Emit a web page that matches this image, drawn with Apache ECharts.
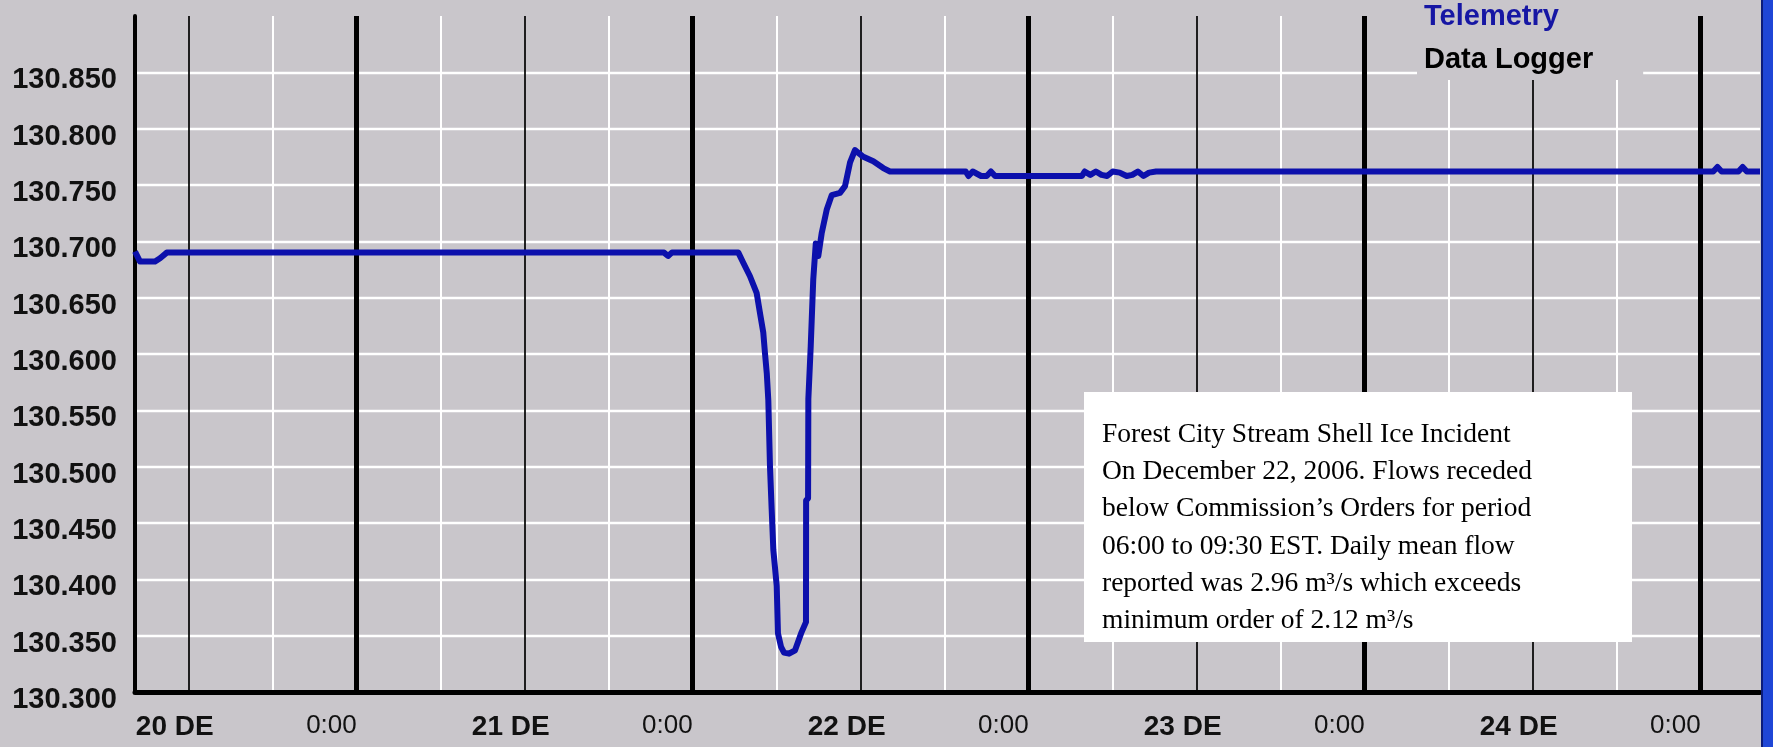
<!DOCTYPE html>
<html>
<head>
<meta charset="utf-8">
<script src="https://cdn.jsdelivr.net/npm/echarts@6/dist/echarts.min.js"></script>
<style>
  html, body { margin: 0; padding: 0; background: #c9c6cb; }
  #chart { width: 1773px; height: 747px; }
</style>
</head>
<body>
<div id="chart"></div>
<script>
// ---- data (x = hours since 20 Dec 00:00) ----
const xMin = 8.16;
const xMax = 124.24;
const midnightTicks = [24, 48, 72, 96, 120];
const noonTicks = [12, 36, 60, 84, 108];
const sixHourTicks = [18, 30, 42, 54, 66, 78, 90, 102, 114];
const dayLabels = ['20 DE', '21 DE', '22 DE', '23 DE', '24 DE'];
const midnightLabel = '0:00';
const yMin = 130.3;
const yMax = 130.9;
const yStep = 0.05;

const telemetryHours = [
  8.16, 8.52, 9.59, 9.95, 10.43, 45.95, 46.24, 46.52, 51.26, 51.61,
  52.09, 52.57, 52.81, 53.04, 53.16, 53.29, 53.40, 53.52, 53.64, 53.76,
  54.00, 54.09, 54.31, 54.52, 54.88, 55.31, 55.74, 56.09, 56.10, 56.24,
  56.26, 56.43, 56.61, 56.79, 56.97, 57.21, 57.57, 57.93, 58.52, 58.88,
  59.24, 59.59, 60.19, 60.90, 61.61, 62.09, 67.50, 67.70, 68.00, 68.30,
  68.60, 69.00, 69.30, 69.60, 70.20, 75.80, 76.00, 76.40, 76.80, 77.20,
  77.60, 78.00, 78.50, 79.00, 79.40, 79.80, 80.20, 80.60, 81.10, 120.90,
  121.20, 121.50, 122.70, 123.00, 123.30, 124.24
];
const telemetryLevels = [
  130.691, 130.682, 130.682, 130.685, 130.690, 130.690, 130.687, 130.690, 130.690, 130.681,
  130.669, 130.654, 130.636, 130.619, 130.601, 130.583, 130.559, 130.500, 130.462, 130.426,
  130.394, 130.352, 130.340, 130.335, 130.334, 130.337, 130.352, 130.362, 130.470, 130.472,
  130.560, 130.607, 130.666, 130.698, 130.687, 130.707, 130.728, 130.741, 130.743, 130.749,
  130.770, 130.781, 130.775, 130.771, 130.765, 130.762, 130.762, 130.758, 130.762, 130.760,
  130.758, 130.758, 130.762, 130.758, 130.758, 130.758, 130.762, 130.759, 130.762, 130.759,
  130.758, 130.762, 130.761, 130.758, 130.759, 130.762, 130.758, 130.761, 130.762, 130.762,
  130.766, 130.762, 130.762, 130.766, 130.762, 130.762
];
const dataLoggerLevels = [];

const noteLines = [
  'Forest City Stream Shell Ice Incident',
  'On December 22, 2006. Flows receded',
  'below Commission\u2019s Orders for period',
  '06:00 to 09:30 EST. Daily mean flow',
  'reported was 2.96 m\u00b3/s which exceeds',
  'minimum order of 2.12 m\u00b3/s'
];

// ---- chart ----
const BG = '#c9c6cb';
const chart = echarts.init(document.getElementById('chart'), null, { renderer: 'canvas' });
const telemetryData = telemetryHours.map((h, i) => [h, telemetryLevels[i]]);

const baseX = {
  type: 'value', min: xMin, max: xMax, position: 'bottom', offset: 0,
  axisLine: { show: false, onZero: false },
  axisTick: { show: false },
  axisLabel: { show: false },
  splitLine: { show: false }
};

const option = {
  backgroundColor: BG,
  animation: false,
  grid: { left: 135, right: 13, top: 16, bottom: 55 },
  legend: {
    orient: 'vertical', left: 1417, top: 0,
    backgroundColor: BG,
    padding: [2, 50, 5, 1],
    itemWidth: 0, itemHeight: 0, itemGap: 13,
    selectedMode: false, z: 20,
    textStyle: { fontFamily: '"Liberation Sans", Arial, sans-serif', fontSize: 29, fontWeight: 'bold', lineHeight: 30 },
    data: [
      { name: 'Telemetry', textStyle: { color: '#1616a4' } },
      { name: 'Data Logger', textStyle: { color: '#000000' } }
    ]
  },
  xAxis: [
    Object.assign({}, baseX, {
      z: 3,
      axisLine: { show: true, onZero: false, lineStyle: { color: '#000', width: 5 } },
      axisTick: { show: false, customValues: midnightTicks },
      axisLabel: {
        show: true, customValues: midnightTicks, margin: 21, align: 'right',
        formatter: () => midnightLabel,
        fontFamily: '"Liberation Sans Narrow", "Liberation Sans", Arial, sans-serif',
        fontSize: 26, color: '#111'
      },
      splitLine: { show: true, lineStyle: { color: '#000', width: 5 } }
    }),
    Object.assign({}, baseX, {
      z: 2,
      axisTick: { show: false, customValues: noonTicks },
      axisLabel: {
        show: true, customValues: noonTicks, margin: 21, align: 'center',
        padding: [0, 28, 0, 0],
        formatter: (v) => dayLabels[noonTicks.indexOf(v)],
        fontFamily: '"Liberation Sans", Arial, sans-serif',
        fontSize: 28, fontWeight: 'bold', color: '#111'
      },
      splitLine: { show: true, lineStyle: { color: '#000', width: 1.7 } }
    }),
    Object.assign({}, baseX, {
      z: 1,
      axisTick: { show: false, customValues: sixHourTicks },
      splitLine: { show: true, lineStyle: { color: '#ffffff', width: 2 } }
    })
  ],
  yAxis: {
    type: 'value', min: yMin, max: yMax, interval: yStep, z: 0,
    axisLine: { show: true, onZero: false, lineStyle: { color: '#000', width: 4 } },
    axisTick: { show: false },
    axisLabel: {
      margin: 18, showMaxLabel: false, verticalAlign: 'top', lineHeight: 16,
      formatter: (v) => v.toFixed(3),
      fontFamily: '"Liberation Sans", Arial, sans-serif',
      fontSize: 29, fontWeight: 'bold', color: '#111'
    },
    splitLine: { show: true, showMaxLine: false, lineStyle: { color: '#ffffff', width: 2.3 } }
  },
  series: [
    {
      name: 'Telemetry', type: 'line', xAxisIndex: 0, yAxisIndex: 0,
      data: telemetryData, showSymbol: false, symbol: 'none', z: 10,
      color: '#0c10ac',
      lineStyle: { color: '#0c10ac', width: 6, join: 'round' }
    },
    {
      name: 'Data Logger', type: 'line', xAxisIndex: 0, yAxisIndex: 0,
      data: dataLoggerLevels, showSymbol: false, symbol: 'none', z: 9,
      color: '#000000', lineStyle: { color: '#000000', width: 3 }
    }
  ],
  graphic: [
    {
      type: 'rect', z: 50,
      shape: { x: 1084, y: 392, width: 548, height: 250 },
      style: { fill: '#ffffff' }
    },
    {
      type: 'text', z: 51, x: 1102, y: 416,
      style: {
        text: noteLines.join('\n'),
        font: '27.5px "Liberation Serif", "Times New Roman", serif',
        lineHeight: 37.3, fill: '#000', verticalAlign: 'top', align: 'left'
      }
    },
    {
      type: 'rect', z: 60,
      shape: { x: 1762, y: 0, width: 11, height: 747 },
      style: { fill: '#1f46d6' }
    },
    {
      type: 'rect', z: 61,
      shape: { x: 1761, y: 0, width: 2, height: 747 },
      style: { fill: '#0c1c7a' }
    }
  ]
};
chart.setOption(option);
</script>
</body>
</html>
